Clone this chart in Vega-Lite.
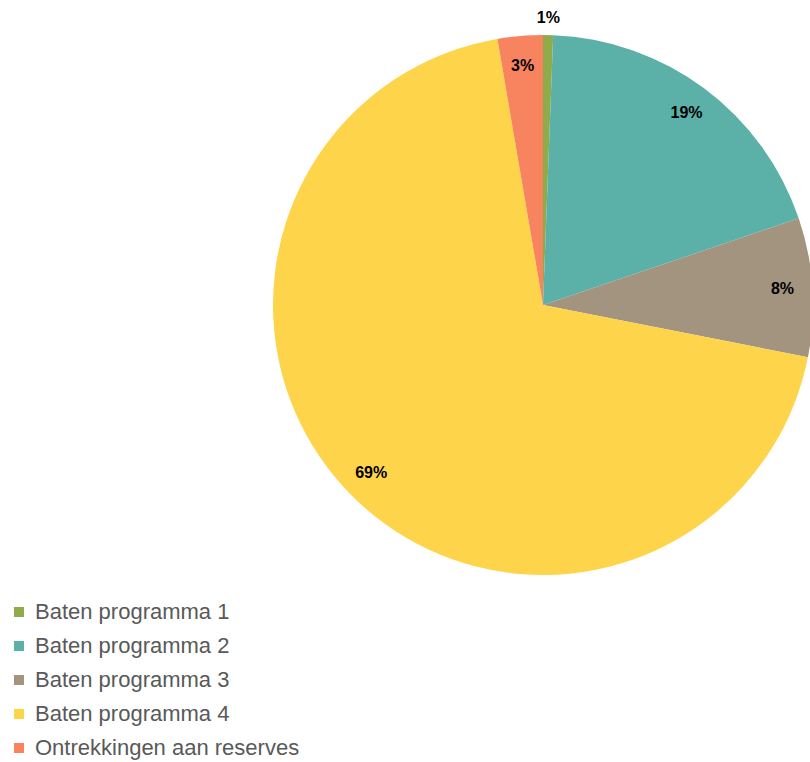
{
  "$schema": "https://vega.github.io/schema/vega-lite/v6.json",
  "width": 540,
  "height": 540,
  "autosize": {"type": "none"},
  "padding": {"left": 273, "top": 35, "right": 0, "bottom": 187},
  "background": "white",
  "config": {"view": {"stroke": null}},
  "data": {
    "values": [
      {"category": "Baten programma 1", "value": 0.6},
      {"category": "Baten programma 2", "value": 19.2},
      {"category": "Baten programma 3", "value": 8.3},
      {"category": "Baten programma 4", "value": 69.2},
      {"category": "Ontrekkingen aan reserves", "value": 2.7}
    ]
  },
  "transform": [
    {"joinaggregate": [{"op": "sum", "field": "value", "as": "total"}]},
    {"calculate": "datum.value / datum.total", "as": "pct"}
  ],
  "encoding": {
    "theta": {"field": "value", "type": "quantitative", "stack": true},
    "order": {"field": "category", "sort": "ascending"},
    "color": {
      "field": "category",
      "type": "nominal",
      "scale": {
        "domain": ["Baten programma 1", "Baten programma 2", "Baten programma 3", "Baten programma 4", "Ontrekkingen aan reserves"],
        "range": ["#8FAB4A", "#5BB0A8", "#A39480", "#FED44A", "#F7845F"]
      },
      "legend": {
        "orient": "none",
        "legendX": -265,
        "legendY": 566,
        "title": null,
        "padding": 0,
        "symbolType": "square",
        "symbolSize": 100,
        "symbolStrokeWidth": 0,
        "labelFont": "Liberation Sans",
        "labelFontSize": 22,
        "labelColor": "#595959",
        "labelOffset": 5,
        "rowPadding": 12,
        "labelLimit": 400
      }
    }
  },
  "layer": [
    {"mark": {"type": "arc", "outerRadius": 270, "stroke": null}},
    {
      "mark": {"type": "text", "radius": 240, "fontWeight": "bold", "fontSize": 16, "font": "Liberation Sans", "fill": "black"},
      "encoding": {
        "text": {"field": "pct", "type": "quantitative", "format": ".0%"},
        "color": {"value": "black"},
        "opacity": {"condition": {"test": "datum.pct < 0.02", "value": 0}, "value": 1}
      }
    },
    {
      "mark": {"type": "text", "radius": 287, "fontWeight": "bold", "fontSize": 16, "font": "Liberation Sans", "fill": "black"},
      "encoding": {
        "text": {"field": "pct", "type": "quantitative", "format": ".0%"},
        "color": {"value": "black"},
        "opacity": {"condition": {"test": "datum.pct < 0.02", "value": 1}, "value": 0}
      }
    }
  ]
}
